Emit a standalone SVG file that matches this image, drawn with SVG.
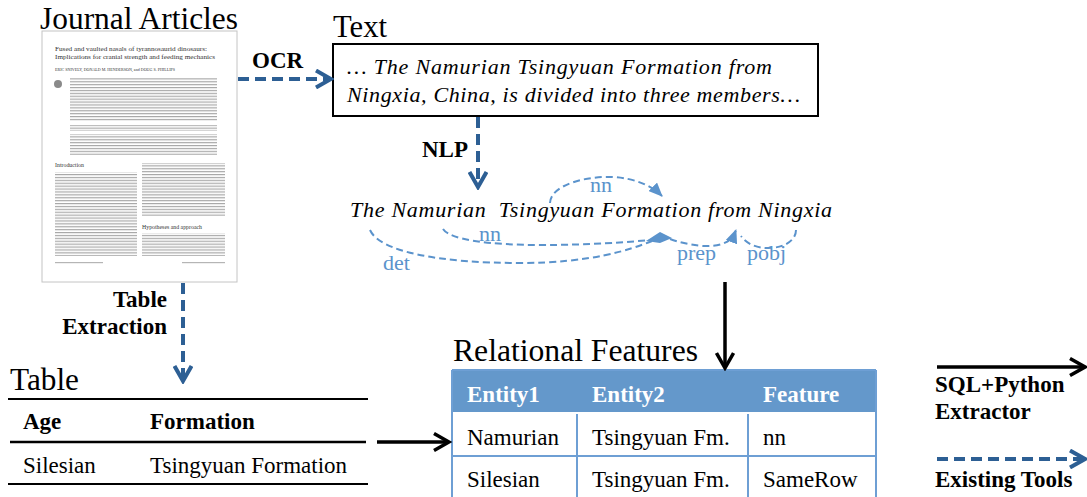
<svg xmlns="http://www.w3.org/2000/svg" width="1087" height="497" viewBox="0 0 1087 497" font-family="Liberation Serif, serif">
<style>
.hdr{font-size:31px;fill:#000}
.bl{font-size:23px;font-weight:bold;fill:#000}
.rg{font-size:23px;fill:#000}
.it{font-size:22px;font-style:italic;fill:#000}
.dep{font-size:22px;fill:#5B93CC}
.wh{font-size:23px;font-weight:bold;fill:#fff}
.tiny{fill:#333}
.dash{fill:none;stroke:#2D5F94;stroke-width:4;stroke-dasharray:11 6}
.solid{fill:none;stroke:#000;stroke-width:3.5}
.arc{fill:none;stroke:#5B93CC;stroke-width:2;stroke-dasharray:7 4}
.tb{stroke:#6E9FD4;stroke-width:2;fill:none}
</style>
<defs>
<marker id="chevB" viewBox="0 0 20 20" markerWidth="20" markerHeight="20" refX="17" refY="10" orient="auto" markerUnits="userSpaceOnUse">
<path d="M2,1.5 L17,10 L2,18.5" fill="none" stroke="#2D5F94" stroke-width="4"/>
</marker>
<marker id="chevK" viewBox="0 0 20 20" markerWidth="20" markerHeight="20" refX="17" refY="10" orient="auto" markerUnits="userSpaceOnUse">
<path d="M2,1.5 L17,10 L2,18.5" fill="none" stroke="#000" stroke-width="3.5"/>
</marker>
<marker id="tri" viewBox="0 0 14 12" markerWidth="14" markerHeight="12" refX="13" refY="6" orient="auto" markerUnits="userSpaceOnUse">
<path d="M0,0 L14,6 L0,12 z" fill="#5B93CC"/>
</marker>
<pattern id="lines" width="6" height="2.9" patternUnits="userSpaceOnUse">
<rect width="6" height="1.2" fill="#a8a8a8"/>
</pattern>
</defs>

<g id="journal">
<text class="hdr" x="40" y="29" textLength="198" lengthAdjust="spacingAndGlyphs">Journal Articles</text>
<rect x="42" y="31" width="195" height="251" fill="#fff" stroke="#c4c4c4" stroke-width="1"/>
<text class="tiny" x="55" y="51" font-size="6.3" textLength="152" lengthAdjust="spacingAndGlyphs">Fused and vaulted nasals of tyrannosaurid dinosaurs:</text>
<text class="tiny" x="55" y="59" font-size="6.3" textLength="160" lengthAdjust="spacingAndGlyphs">Implications for cranial strength and feeding mechanics</text>
<text class="tiny" x="55" y="71" font-size="3.6" textLength="120" lengthAdjust="spacingAndGlyphs">ERIC SNIVELY, DONALD M. HENDERSON, and DOUG S. PHILLIPS</text>
<circle cx="58" cy="84" r="4" fill="#8a8a8a"/>
<rect x="70" y="78" width="147" height="43" fill="url(#lines)"/>
<rect x="70" y="125" width="147" height="6" fill="url(#lines)"/>
<rect x="70" y="134" width="147" height="21" fill="url(#lines)"/>
<text class="tiny" x="55" y="167" font-size="6" textLength="29" lengthAdjust="spacingAndGlyphs">Introduction</text>
<rect x="55" y="172" width="82" height="84" fill="url(#lines)"/>
<rect x="142" y="163" width="83" height="53" fill="url(#lines)"/>
<text class="tiny" x="142" y="229" font-size="5.5" textLength="60" lengthAdjust="spacingAndGlyphs">Hypotheses and approach</text>
<rect x="142" y="233" width="83" height="23" fill="url(#lines)"/>
<rect x="55" y="262" width="48" height="1.2" fill="#b5b5b5"/>
<rect x="182" y="262" width="43" height="1.2" fill="#b5b5b5"/>
</g>

<g id="text-node">
<text class="hdr" x="333" y="37" textLength="54" lengthAdjust="spacingAndGlyphs">Text</text>
<rect x="333" y="44" width="485" height="72" fill="#fff" stroke="#000" stroke-width="2"/>
<text class="it" x="347" y="74" textLength="425" lengthAdjust="spacing">… The Namurian Tsingyuan Formation from</text>
<text class="it" x="347" y="102" textLength="453" lengthAdjust="spacing">Ningxia, China, is divided into three members…</text>
</g>

<g id="parse">
<text class="it" x="350" y="217" textLength="482" lengthAdjust="spacing" xml:space="preserve">The Namurian  Tsingyuan Formation from Ningxia</text>
<path class="arc" d="M550,203 C551,184 588,176 612,177 C635,178 652,186 662,196" marker-end="url(#tri)"/>
<path class="arc" d="M370,230 C380,252 440,263 520,263 C590,263 630,250 652,241"/>
<path class="arc" d="M443,229 C450,240 490,245 540,245 C590,245 630,242 650,240"/>
<polygon points="646,241 660,232 672,238 660,243" fill="#5B93CC"/>
<path class="arc" d="M670,239 C690,246 710,248 722,244 C730,241 733,238 736,230" marker-end="url(#tri)"/>
<path class="arc" d="M796,230 C796,240 785,248 768,248 C755,248 746,243 741,236"/>
<text class="dep" x="590" y="192" font-size="20">nn</text>
<text class="dep" x="479" y="241" font-size="21">nn</text>
<text class="dep" x="383" y="270">det</text>
<text class="dep" x="677" y="260">prep</text>
<text class="dep" x="747" y="260">pobj</text>
</g>

<g id="table-node">
<text class="hdr" x="10" y="390" textLength="69" lengthAdjust="spacingAndGlyphs">Table</text>
<line x1="8" y1="399" x2="368" y2="399" stroke="#000" stroke-width="2"/>
<line x1="10" y1="442" x2="366" y2="442" stroke="#000" stroke-width="2.5"/>
<line x1="8" y1="484" x2="368" y2="484" stroke="#000" stroke-width="2"/>
<text class="bl" x="23" y="429">Age</text>
<text class="bl" x="150" y="429">Formation</text>
<text class="rg" x="23" y="473">Silesian</text>
<text class="rg" x="150" y="473">Tsingyuan Formation</text>
</g>

<g id="relational-node">
<text class="hdr" x="453" y="361" textLength="245" lengthAdjust="spacingAndGlyphs">Relational Features</text>
<rect x="452" y="370" width="424" height="42" fill="#6498CB"/>
<path class="tb" d="M452,370 V497 M876,370 V497 M452,370 H876 M452,456 H876 M577,414 V497 M748,414 V497"/>
<text class="wh" x="467" y="402">Entity1</text>
<text class="wh" x="592" y="402">Entity2</text>
<text class="wh" x="763" y="402">Feature</text>
<text class="rg" x="467" y="445">Namurian</text>
<text class="rg" x="592" y="445">Tsingyuan Fm.</text>
<text class="rg" x="763" y="445">nn</text>
<text class="rg" x="467" y="487">Silesian</text>
<text class="rg" x="592" y="487">Tsingyuan Fm.</text>
<text class="rg" x="763" y="487">SameRow</text>
</g>

<g id="connectors">
<path class="dash" d="M238,79 H331" marker-end="url(#chevB)"/>
<text class="bl" x="252" y="68">OCR</text>
<path class="dash" d="M478,117 V187" marker-end="url(#chevB)"/>
<text class="bl" x="422" y="157">NLP</text>
<path class="dash" d="M183,283 V381" marker-end="url(#chevB)"/>
<text class="bl" x="167" y="307" text-anchor="end">Table</text>
<text class="bl" x="167" y="334" text-anchor="end">Extraction</text>
<path class="solid" d="M725,282 V368" marker-end="url(#chevK)"/>
<path class="solid" d="M377,442 H449" marker-end="url(#chevK)"/>
</g>

<g id="legend">
<path class="solid" d="M937,367 H1085" marker-end="url(#chevK)"/>
<text class="bl" x="935" y="392">SQL+Python</text>
<text class="bl" x="935" y="419">Extractor</text>
<path class="dash" d="M937,459 H1085" marker-end="url(#chevB)"/>
<text class="bl" x="935" y="487">Existing Tools</text>
</g>
</svg>
